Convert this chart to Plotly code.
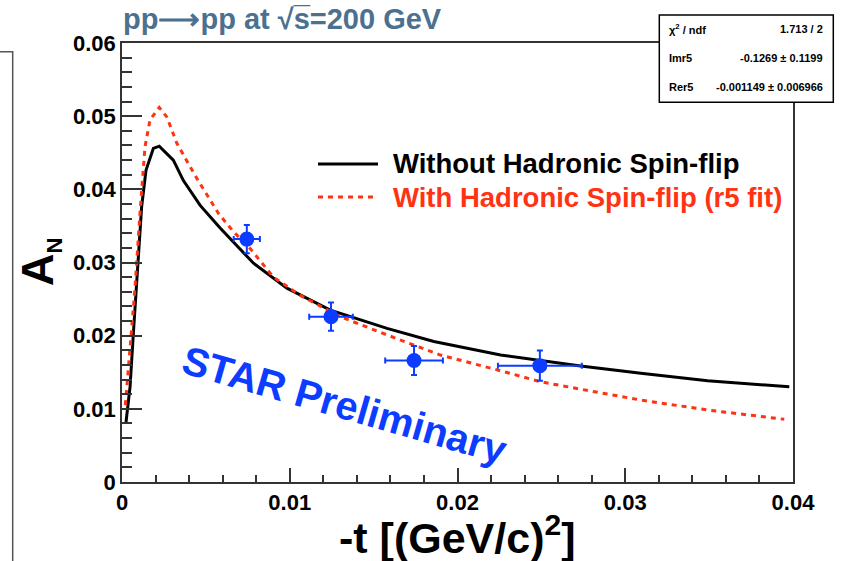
import plotly.graph_objects as go

# ---------------- data ----------------
t_points = [0.00744, 0.01246, 0.01741, 0.02491]
an_points = [0.0332, 0.0226, 0.0166, 0.0159]
t_err = [0.00078, 0.0013, 0.00172, 0.0025]
an_err = [0.00194, 0.00194, 0.00198, 0.00207]

t_noflip = [0.00024, 0.00048, 0.00068, 0.00092, 0.00117, 0.00143, 0.00187, 0.00222,
            0.00306, 0.00366, 0.00466, 0.00585, 0.00665, 0.00784, 0.00983, 0.01242,
            0.0158, 0.01859, 0.02257, 0.02495, 0.02734, 0.03093, 0.03491, 0.03978]
an_noflip = [0.0082, 0.0130, 0.0204, 0.0294, 0.0376, 0.0426, 0.0456, 0.0459,
             0.0440, 0.0412, 0.0378, 0.0347, 0.0328, 0.0299, 0.0265, 0.0235,
             0.0210, 0.0192, 0.01735, 0.01657, 0.01585, 0.01485, 0.01384, 0.01302]

t_flip = [0.0002, 0.00052, 0.00078, 0.00107, 0.00137, 0.00167, 0.00222, 0.00267,
          0.00327, 0.00396, 0.00446, 0.00575, 0.00665, 0.00764, 0.00903, 0.01063,
          0.01301, 0.0158, 0.01899, 0.02257, 0.02495, 0.02794, 0.03093, 0.03491, 0.03948]
an_flip = [0.0105, 0.0194, 0.0267, 0.0367, 0.0458, 0.0495, 0.0512, 0.0499,
           0.0463, 0.0435, 0.0415, 0.0367, 0.0342, 0.0319, 0.0280, 0.0255,
           0.0226, 0.0201, 0.01735, 0.0152, 0.0137, 0.01243, 0.0112, 0.00984, 0.00857]

legend_labels = ["Without Hadronic Spin-flip", "With Hadronic Spin-flip (r5 fit)"]
stat_names = ["χ<sup>2</sup> / ndf", "Imr5", "Rer5"]
stat_values = ["1.713 / 2", "-0.1269 ± 0.1199", "-0.001149 ± 0.006966"]

# ---------------- style ----------------
FONT = "Liberation Sans, Arial, sans-serif"
BLUE = "#0b3cff"
RED = "#ff3311"
W, H = 843, 561
L, R, T, B = 122, 50, 43, 79
PW, PH = W - L - R, H - T - B


def px(x):
    return (x - L) / PW


def py(y):
    return (H - B - y) / PH


fig = go.Figure()

fig.add_trace(go.Scatter(x=t_noflip, y=an_noflip, mode="lines",
                         line=dict(color="black", width=3), showlegend=False))
fig.add_trace(go.Scatter(x=t_flip, y=an_flip, mode="lines",
                         line=dict(color=RED, width=3, dash="5px,5px"), showlegend=False))
fig.add_trace(go.Scatter(
    x=t_points, y=an_points, mode="markers",
    marker=dict(color=BLUE, size=15, symbol="circle"),
    error_x=dict(type="data", array=t_err, color=BLUE, thickness=2, width=3),
    error_y=dict(type="data", array=an_err, color=BLUE, thickness=2, width=3),
    showlegend=False))

axis_common = dict(
    showline=True, linecolor="#333333", linewidth=1.5, mirror=True,
    showgrid=False, zeroline=False, ticks="inside", tickcolor="#333333",
    tickwidth=1.5,
    tickfont=dict(family=FONT, size=22, color="black", weight="bold"),
)

fig.update_xaxes(range=[0, 0.04], dtick=0.01, tick0=0, ticklen=14,
                 minor=dict(dtick=0.002, ticks="inside", ticklen=7,
                            tickcolor="#333333", tickwidth=1.5),
                 **axis_common)
fig.update_yaxes(range=[0, 0.06], dtick=0.01, tick0=0, ticklen=20,
                 minor=dict(dtick=0.002, ticks="inside", ticklen=10,
                            tickcolor="#333333", tickwidth=1.5),
                 **axis_common)

shapes = []
# legend samples
shapes.append(dict(type="line", xref="paper", yref="paper",
                   x0=px(318), x1=px(378), y0=py(164), y1=py(164),
                   line=dict(color="black", width=3)))
shapes.append(dict(type="line", xref="paper", yref="paper",
                   x0=px(318), x1=px(378), y0=py(197), y1=py(197),
                   line=dict(color=RED, width=3, dash="5px,5px")))
# stats box
shapes.append(dict(type="rect", xref="paper", yref="paper", layer="above",
                   x0=px(659.3), x1=px(833.3), y0=py(102.3), y1=py(15),
                   line=dict(color="black", width=1.5), fillcolor="white"))
# neighbouring pad border on the left
shapes.append(dict(type="path", xref="paper", yref="paper",
                   path=f"M {px(0)} {py(51.7)} L {px(12.7)} {py(51.7)} L {px(12.7)} {py(561)}",
                   line=dict(color="#555555", width=1.5)))

annotations = []
# title
annotations.append(dict(
    xref="paper", yref="paper", x=px(121), y=py(19), xanchor="left", yanchor="middle",
    text="pp⟶pp at √s̅=200 GeV",
    showarrow=False, font=dict(family=FONT, size=29, color="#4c7190", weight="bold")))
# legend texts
annotations.append(dict(
    xref="paper", yref="paper", x=px(391), y=py(164), xanchor="left", yanchor="middle",
    text=legend_labels[0], showarrow=False,
    font=dict(family=FONT, size=27.5, color="black", weight="bold")))
annotations.append(dict(
    xref="paper", yref="paper", x=px(391), y=py(197), xanchor="left", yanchor="middle",
    text=legend_labels[1], showarrow=False,
    font=dict(family=FONT, size=27.5, color=RED, weight="bold")))
# axis titles
annotations.append(dict(
    xref="paper", yref="paper", x=px(457), y=py(535), xanchor="center", yanchor="middle",
    text="-t [(GeV/c)<sup>2</sup>]", showarrow=False,
    font=dict(family=FONT, size=43, color="black", weight="bold")))
annotations.append(dict(
    xref="paper", yref="paper", x=px(39), y=py(262), xanchor="center", yanchor="middle",
    text="A<sub><span style='font-size:22px'>N</span></sub>", textangle=-90, showarrow=False,
    font=dict(family=FONT, size=45, color="black", weight="bold")))
# STAR Preliminary
annotations.append(dict(
    xref="paper", yref="paper", x=px(345), y=py(405), xanchor="center", yanchor="middle",
    text="STAR Preliminary", textangle=16, showarrow=False,
    font=dict(family=FONT, size=40, color=BLUE, weight="bold")))
# stats
for i, (n, v) in enumerate(zip(stat_names, stat_values)):
    yy = [29, 58.3, 86.7][i]
    annotations.append(dict(
        xref="paper", yref="paper", x=px(666.7), y=py(yy), xanchor="left", yanchor="middle",
        text=n, showarrow=False,
        font=dict(family=FONT, size=11, color="black", weight="bold")))
    annotations.append(dict(
        xref="paper", yref="paper", x=px(825), y=py(yy), xanchor="right", yanchor="middle",
        text=v, showarrow=False,
        font=dict(family=FONT, size=11, color="black", weight="bold")))

fig.update_layout(
    width=W, height=H,
    margin=dict(l=L, r=R, t=T, b=B, pad=0),
    paper_bgcolor="white", plot_bgcolor="white",
    shapes=shapes, annotations=annotations,
    showlegend=False,
)

fig.write_html("out.html", config={"displayModeBar": False},
               post_script="document.body.style.margin='0';document.body.style.padding='0';document.body.style.overflow='hidden';")
